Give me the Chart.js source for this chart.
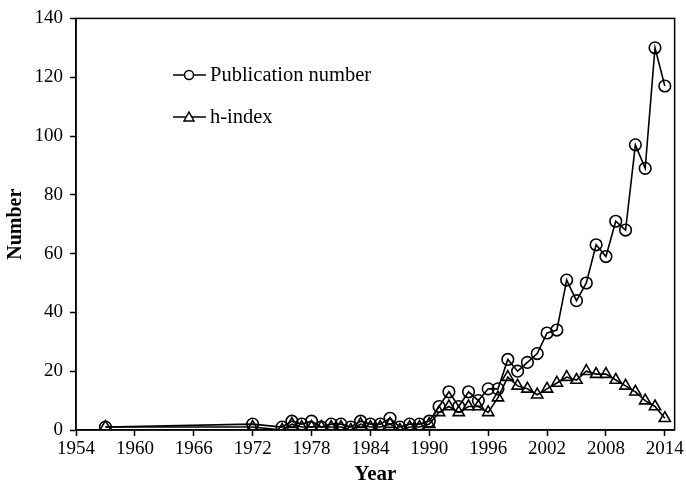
<!DOCTYPE html>
<html>
<head>
<meta charset="utf-8">
<script src="https://cdn.jsdelivr.net/npm/chart.js@4"></script>
<style>
  html, body { margin: 0; padding: 0; background: #fff; }
  #wrap { width: 686px; height: 491px; }
</style>
</head>
<body>
<div id="wrap"><canvas id="chart"></canvas></div>
<script>
// values
var years = [1957, 1972, 1975, 1976, 1977, 1978, 1979, 1980, 1981, 1982, 1983, 1984, 1985,
  1986, 1987, 1988, 1989, 1990, 1991, 1992, 1993, 1994, 1995, 1996, 1997, 1998, 1999,
  2000, 2001, 2002, 2003, 2004, 2005, 2006, 2007, 2008, 2009, 2010, 2011, 2012, 2013, 2014];
var pubNumber = [1, 2, 1, 3, 2, 3, 1, 2, 2, 1, 3, 2, 2,
  4, 1, 2, 2, 3, 8, 13, 8, 13, 10, 14, 14, 24, 20,
  23, 26, 33, 34, 51, 44, 50, 63, 59, 71, 68, 97, 89, 130, 117];
var hIndex = [1, 1, 0, 2, 1, 1, 1, 1, 1, 0, 2, 1, 1,
  2, 0, 1, 1, 2, 6, 8, 6, 8, 8, 6, 11, 18, 15,
  14, 12, 14, 16, 18, 17, 20, 19, 19, 17, 15, 13, 10, 8, 4];
var xTicks = [1954, 1960, 1966, 1972, 1978, 1984, 1990, 1996, 2002, 2008, 2014];

var serif = '"Liberation Serif", "Times New Roman", serif';

function toPoints(vals) {
  return years.map(function (y, i) { return { x: y, y: vals[i] }; });
}

// box around plot + legend inside the plot area
var frameAndLegend = {
  id: 'frameAndLegend',
  afterDraw: function (chart) {
    var ctx = chart.ctx;
    var a = chart.chartArea;
    ctx.save();
    ctx.strokeStyle = '#000';
    ctx.lineWidth = 1.5;
    ctx.strokeRect(a.left, a.top, a.right - a.left, a.bottom - a.top);

    var rows = [{ ds: chart.data.datasets[0], y: 75 }, { ds: chart.data.datasets[1], y: 117 }];
    rows.forEach(function (r) {
      var cx = 189;
      ctx.strokeStyle = '#000';
      ctx.lineWidth = 1.5;
      ctx.beginPath();
      ctx.moveTo(173, r.y);
      ctx.lineTo(206, r.y);
      ctx.stroke();
      ctx.fillStyle = '#fff';
      if (r.ds.pointStyle === 'triangle') {
        ctx.beginPath();
        ctx.moveTo(cx, r.y - 5);
        ctx.lineTo(cx + 5, r.y + 4);
        ctx.lineTo(cx - 5, r.y + 4);
        ctx.closePath();
      } else {
        ctx.beginPath();
        ctx.arc(cx, r.y, 4.5, 0, Math.PI * 2);
      }
      ctx.fill();
      ctx.stroke();
      ctx.fillStyle = '#000';
      ctx.font = '20.5px ' + serif;
      ctx.textBaseline = 'middle';
      ctx.fillText(r.ds.label, 210, r.y + 1);
    });
    ctx.restore();
  }
};

new Chart(document.getElementById('chart'), {
  type: 'line',
  data: {
    datasets: [
      {
        label: 'Publication number',
        data: toPoints(pubNumber),
        borderColor: '#000',
        borderWidth: 1.6,
        pointStyle: 'circle',
        pointRadius: 5.8,
        pointBorderWidth: 1.6,
        pointBorderColor: '#000',
        pointBackgroundColor: 'rgba(255,255,255,0)',
        tension: 0
      },
      {
        label: 'h-index',
        data: toPoints(hIndex),
        borderColor: '#000',
        borderWidth: 1.6,
        pointStyle: 'triangle',
        pointRadius: 6.5,
        pointBorderWidth: 1.6,
        pointBorderColor: '#000',
        pointBackgroundColor: 'rgba(255,255,255,0)',
        tension: 0
      }
    ]
  },
  options: {
    responsive: true,
    maintainAspectRatio: false,
    animation: false,
    layout: { padding: { left: 0, right: 11, top: 18, bottom: 0 } },
    plugins: {
      legend: { display: false },
      tooltip: { enabled: false }
    },
    scales: {
      x: {
        type: 'linear',
        min: 1954,
        max: 2015,
        afterBuildTicks: function (scale) {
          scale.ticks = xTicks.map(function (v) { return { value: v }; });
        },
        afterFit: function (scale) { scale.height = 61; },
        grid: { drawOnChartArea: false, tickLength: 6, tickColor: '#000', tickWidth: 1.5 },
        border: { color: '#000', width: 1.5 },
        ticks: {
          color: '#000',
          font: { family: serif, size: 19 },
          padding: 2,
          maxRotation: 0,
          autoSkip: false,
          callback: function (v) { return String(v); }
        },
        title: {
          display: true,
          text: 'Year',
          color: '#000',
          font: { family: serif, size: 21, weight: 'bold' },
          padding: { top: 0, bottom: 4 }
        }
      },
      y: {
        min: 0,
        max: 140,
        afterFit: function (scale) { scale.width = 76; },
        grid: { drawOnChartArea: false, tickLength: 6, tickColor: '#000', tickWidth: 1.5 },
        border: { color: '#000', width: 1.5 },
        ticks: {
          stepSize: 20,
          color: '#000',
          font: { family: serif, size: 19 },
          padding: 7
        },
        title: {
          display: true,
          text: 'Number',
          color: '#000',
          font: { family: serif, size: 20, weight: 'bold' },
          padding: { top: 4, bottom: 0 }
        }
      }
    }
  },
  plugins: [frameAndLegend]
});
</script>
</body>
</html>
